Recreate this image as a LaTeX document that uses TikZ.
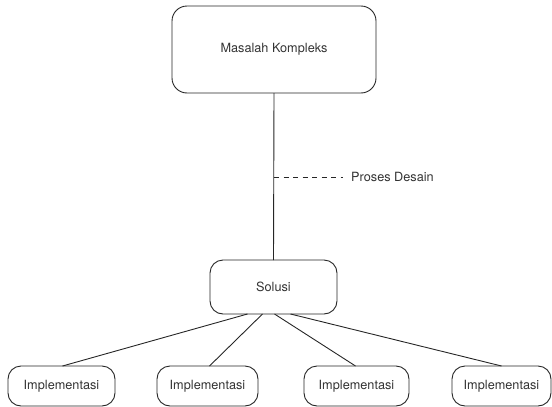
\documentclass[tikz,border=0pt]{standalone}
\usepackage{fontspec}
\setmainfont{TeX Gyre Heros}
\begin{document}
\begin{tikzpicture}[x=1pt,y=-1pt,
  box/.style={draw=black!85, line width=0.9pt, rounded corners=13pt, inner sep=0pt, outer sep=0pt,
    font=\fontsize{12.7}{15}\selectfont, text=black!80},
  conn/.style={draw=black!85, line width=0.9pt},
  lbl/.style={font=\fontsize{12.7}{15}\selectfont, text=black!80, inner sep=0pt, anchor=west}]
\useasboundingbox (0,0) rectangle (552,407);
\node[box, rounded corners=15pt, minimum width=204pt, minimum height=87pt] (mk) at (274,49.5) {Masalah Kompleks\hspace{10pt}};
\node[box, minimum width=127pt, minimum height=54pt] (sol) at (273.5,287) {Solusi\hspace{9pt}};
\node[box, minimum width=107pt, minimum height=40pt] (i1) at (61.5,386) {Implementasi};
\node[box, minimum width=101pt, minimum height=40pt] (i2) at (207.5,386) {Implementasi};
\node[box, minimum width=105pt, minimum height=40pt] (i3) at (356.5,386) {Implementasi};
\node[box, minimum width=99pt, minimum height=40pt] (i4) at (501.5,386) {Implementasi};
\draw[conn] (mk.south) -- (sol.north);
\coordinate (dstart) at (274,177);
\node[lbl] (pd) at (351,177) {Proses Desain};
\draw[conn, dash pattern=on 5pt off 4.5pt] (dstart) -- ([xshift=-8pt]pd.west);
\draw[conn] ([xshift=-26pt]sol.south) -- ([xshift=1pt]i1.north);
\draw[conn] ([xshift=-11pt]sol.south) -- ([xshift=2pt]i2.north);
\draw[conn] ([xshift=1pt]sol.south) -- ([xshift=-1pt]i3.north);
\draw[conn] ([xshift=17pt]sol.south) -- ([xshift=0pt]i4.north);
\end{tikzpicture}
\end{document}
